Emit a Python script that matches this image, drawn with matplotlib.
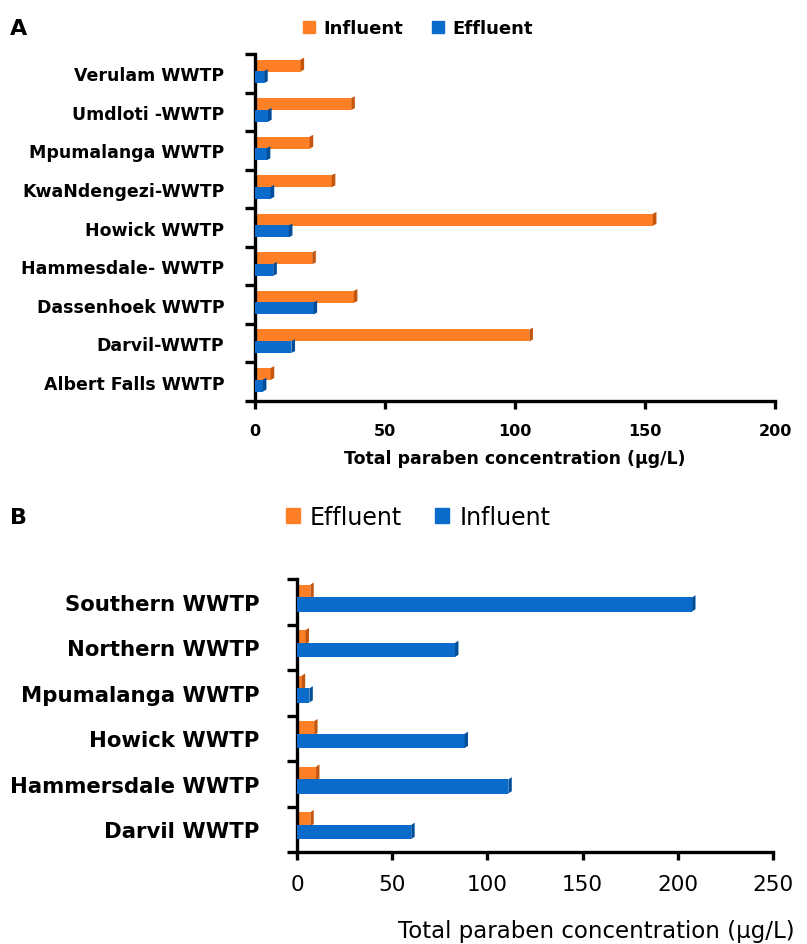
import matplotlib
matplotlib.use("Agg")
import matplotlib.pyplot as plt
from matplotlib.patches import Patch, Polygon
import numpy as np

plt.rcParams["font.family"] = ["DejaVu Sans"]

# panel A (bottom to top)
plants_a = ["Albert Falls WWTP", "Darvil-WWTP", "Dassenhoek WWTP", "Hammesdale- WWTP",
            "Howick WWTP", "KwaNdengezi-WWTP", "Mpumalanga WWTP", "Umdloti -WWTP",
            "Verulam WWTP"]
influent_a = [6, 105.5, 38, 22, 153, 29.5, 21, 37, 17.5]
effluent_a = [3, 14, 22.5, 7, 13, 6, 4.5, 5, 3.5]
ticks_a = [0, 50, 100, 150, 200]

# panel B (bottom to top)
plants_b = ["Darvil WWTP", "Hammersdale WWTP", "Howick WWTP", "Mpumalanga WWTP",
            "Northern WWTP", "Southern WWTP"]
effluent_b = [7, 10, 9, 2.5, 4.5, 7]
influent_b = [60, 111, 88, 6.5, 83, 207.5]
ticks_b = [0, 50, 100, 150, 200, 250]

ORANGE = "#FF7F27"
ORANGE_D = "#C4560E"
BLUE = "#0B6BCB"
BLUE_D = "#004E9A"

W, H = 807, 945
fig = plt.figure(figsize=(W / 100, H / 100), dpi=100)


def px_axes(left, top, right, bottom):
    return fig.add_axes([left / W, 1 - bottom / H, (right - left) / W, (bottom - top) / H])


def depth_bars(ax, bars, dark, dx, dy):
    # fake the excel 3d look with a small dark face on the bar end
    for b in bars:
        x1 = b.get_x() + b.get_width()
        y0, y1 = b.get_y(), b.get_y() + b.get_height()
        ax.add_patch(Polygon([(x1, y0), (x1 + dx, y0 + dy), (x1 + dx, y1 + dy), (x1, y1)],
                             closed=True, facecolor=dark, edgecolor="none", zorder=b.get_zorder()))


def style_axes(ax, n, ticks, lab_size, lab_pad, tick_size, tick_weight, tick_pad):
    ax.set_ylim(-0.5, n - 0.5)
    ax.set_xlim(ticks[0], ticks[-1])
    for s in ["top", "right"]:
        ax.spines[s].set_visible(False)
    for s in ["left", "bottom"]:
        ax.spines[s].set_linewidth(2.4)
    ax.set_yticks(np.arange(n + 1) - 0.5, minor=True)
    ax.tick_params(axis="y", which="major", length=0, pad=lab_pad)
    ax.tick_params(axis="y", which="minor", length=7, width=2.4, direction="out")
    ax.set_xticks(ticks)
    ax.tick_params(axis="x", length=6, width=2.4, direction="out", pad=tick_pad)
    for t in ax.get_yticklabels():
        t.set_fontsize(lab_size)
        t.set_fontweight("bold")
    for t in ax.get_xticklabels():
        t.set_fontsize(tick_size)
        t.set_fontweight(tick_weight)


# ---- panel A
ax1 = px_axes(255, 55, 775, 402)
y = np.arange(len(plants_a))
h = 0.31
b1 = ax1.barh(y + 0.2, influent_a, height=h, color=ORANGE, zorder=2)
b2 = ax1.barh(y - 0.1, effluent_a, height=h, color=BLUE, zorder=3)
depth_bars(ax1, b1, ORANGE_D, 1.4, 0.05)
depth_bars(ax1, b2, BLUE_D, 1.4, 0.05)
ax1.set_yticks(y)
ax1.set_yticklabels(plants_a)
style_axes(ax1, len(plants_a), ticks_a, 12.5, 22, 11.5, "bold", 10)
ax1.set_xlabel("Total paraben concentration (\u00b5g/L)", fontsize=12.5, fontweight="bold", labelpad=8)

fig.legend(handles=[Patch(color=ORANGE, label="Influent"), Patch(color=BLUE, label="Effluent")],
           loc="center", bbox_to_anchor=(418 / W, 1 - 29 / H), ncol=2, frameon=False,
           handlelength=0.67, handleheight=0.67, handletextpad=0.45, columnspacing=1.6,
           prop={"size": 13, "weight": "bold"})
fig.text(10 / W, 1 - 29 / H, "A", fontsize=16, fontweight="bold", va="center")

# ---- panel B
ax2 = px_axes(297, 580, 773, 853)
y = np.arange(len(plants_b))
h = 0.31
b3 = ax2.barh(y + 0.22, effluent_b, height=h, color=ORANGE, zorder=2)
b4 = ax2.barh(y - 0.06, influent_b, height=h, color=BLUE, zorder=3)
depth_bars(ax2, b3, ORANGE_D, 1.8, 0.05)
depth_bars(ax2, b4, BLUE_D, 1.8, 0.05)
ax2.set_yticks(y)
ax2.set_yticklabels(plants_b)
style_axes(ax2, len(plants_b), ticks_b, 15.3, 27, 15.5, "normal", 10)
ax2.set_xlabel("Total paraben concentration (\u00b5g/L)", fontsize=16.5, labelpad=16)
ax2.xaxis.set_label_coords(596 / W, 1 - 932 / H, transform=fig.transFigure)
ax2.xaxis.label.set_va("center")

fig.legend(handles=[Patch(color=ORANGE, label="Effluent"), Patch(color=BLUE, label="Influent")],
           loc="center", bbox_to_anchor=(418 / W, 1 - 518 / H), ncol=2, frameon=False,
           handlelength=0.6, handleheight=0.6, handletextpad=0.42, columnspacing=1.4,
           prop={"size": 17})
fig.text(10 / W, 1 - 518 / H, "B", fontsize=16, fontweight="bold", va="center")

fig.savefig("out.png", dpi=100, facecolor="white")
